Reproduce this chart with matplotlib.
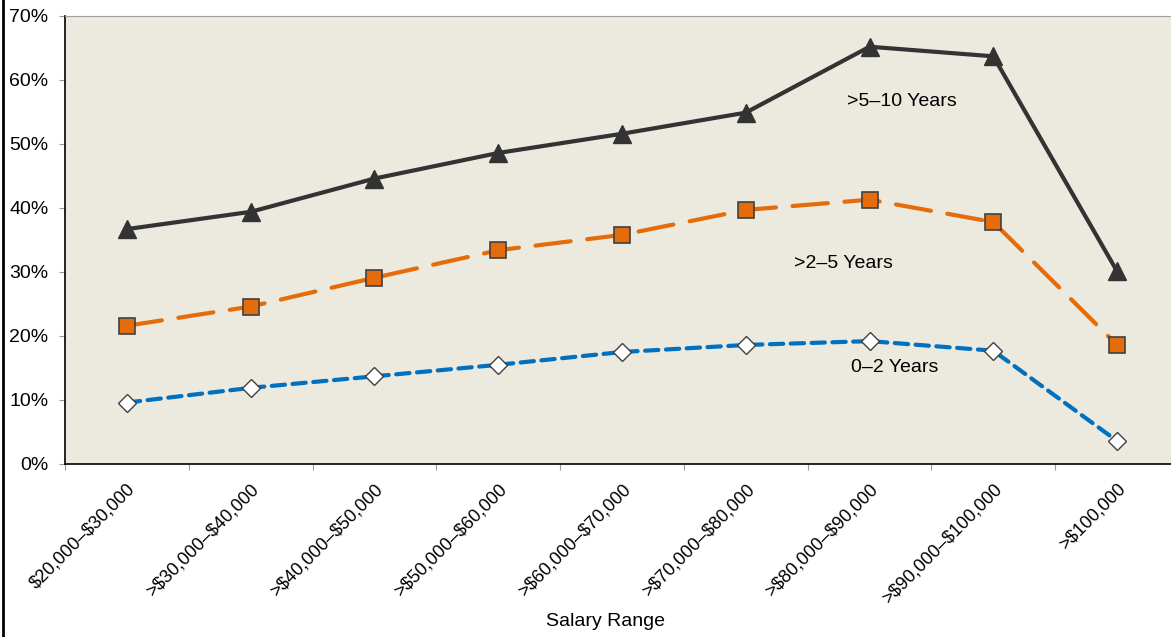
import matplotlib.pyplot as plt
from matplotlib.lines import Line2D
import matplotlib.ticker as ticker

categories = ["$20,000\u2013$30,000", ">$30,000\u2013$40,000", ">$40,000\u2013$50,000",
              ">$50,000\u2013$60,000", ">$60,000\u2013$70,000", ">$70,000\u2013$80,000",
              ">$80,000\u2013$90,000", ">$90,000\u2013$100,000", ">$100,000"]
years_5_10 = [36.7, 39.4, 44.6, 48.6, 51.6, 54.9, 65.2, 63.7, 30.1]
years_2_5 = [21.6, 24.6, 29.1, 33.4, 35.8, 39.7, 41.3, 37.8, 18.6]
years_0_2 = [9.6, 11.9, 13.7, 15.5, 17.5, 18.6, 19.2, 17.7, 3.6]

plt.rcParams['font.family'] = ['Liberation Sans', 'DejaVu Sans']
plt.rcParams['text.parse_math'] = False

fig = plt.figure(figsize=(11.71, 6.37), dpi=100)
ax = fig.add_axes([65 / 1171, 1 - 464 / 637, 1114 / 1171, 448 / 637])
ax.set_facecolor('#ECE9DF')

x = list(range(len(categories)))

ax.plot(x, years_0_2, color='#0070C0', linewidth=3, dashes=(3.2, 1.8),
        dash_capstyle='round', marker='D', markersize=9,
        markerfacecolor='white', markeredgecolor='#404040', markeredgewidth=1, zorder=3)
ax.plot(x, years_2_5, color='#E46C0A', linewidth=3, dashes=(8.5, 4),
        dash_capstyle='round', marker='s', markersize=11,
        markerfacecolor='#E46C0A', markeredgecolor='#404040', markeredgewidth=1.2, zorder=3)
ax.plot(x, years_5_10, color='#333333', linewidth=3, marker='^', markersize=13,
        markerfacecolor='#333333', markeredgecolor='#333333', zorder=3)

ax.text(6.26, 56.7, ">5\u201310 Years", fontsize=14, ha='center', va='center')
ax.text(5.79, 31.25, ">2\u20135 Years", fontsize=14, ha='center', va='center')
ax.text(6.2, 15.0, "0\u20132 Years", fontsize=14, ha='center', va='center')

ax.set_xlim(-0.5, len(categories) - 0.5)
ax.set_ylim(0, 70)
ax.yaxis.set_major_locator(ticker.MultipleLocator(10))
ax.yaxis.set_major_formatter(ticker.StrMethodFormatter("{x:.0f}%"))

ax.set_xticks([i - 0.5 for i in range(len(categories) + 1)])
ax.set_xticklabels([])
ax.set_xticks(x, minor=True)
ax.set_xticklabels(categories, minor=True, rotation=45, ha='right',
                   rotation_mode='anchor', fontsize=13)
ax.tick_params(axis='x', which='minor', length=0, pad=12)
ax.tick_params(axis='x', which='major', length=4, color='#999999')
ax.tick_params(axis='y', length=4, color='#999999', labelsize=14, pad=8)

ax.spines['right'].set_visible(False)
ax.spines['top'].set_color('#A0A0A0')
ax.spines['left'].set_color('black')
ax.spines['bottom'].set_color('black')
ax.spines['left'].set_linewidth(1.2)
ax.spines['bottom'].set_linewidth(1.2)

ax.set_xlabel("Salary Range", fontsize=14)
ax.xaxis.set_label_coords(541 / 1114, -(622 - 464) / 448)
ax.xaxis.label.set_va('center')

fig.add_artist(Line2D([2.5 / 1171, 2.5 / 1171], [0, 1], color='black', linewidth=2,
                      transform=fig.transFigure))

fig.savefig("out.png", dpi=100)
